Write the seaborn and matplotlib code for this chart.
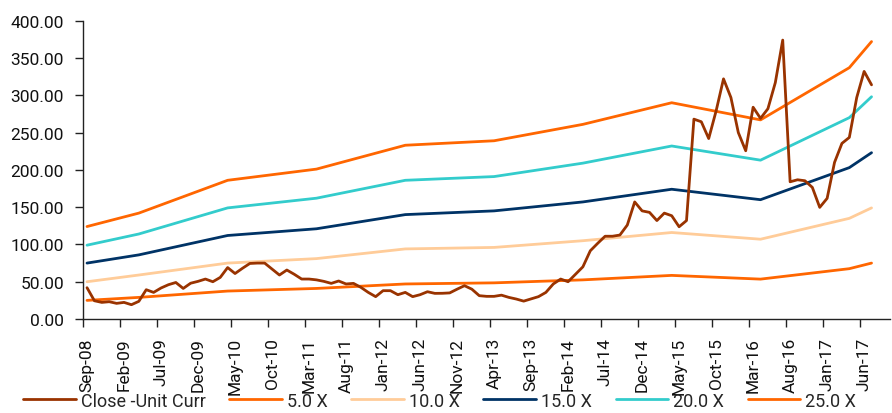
import numpy as np
import matplotlib
matplotlib.use("Agg")
import matplotlib.pyplot as plt
from matplotlib.lines import Line2D
import seaborn as sns

# ── Data ───────────────────────────────────────────────────────────────────
# month index 0 = Sep-08, monthly up to Jul-17
CLOSE = [
    42, 24.5, 22.3, 23.2, 21, 22.3, 19.2, 23.7, 39.3, 35.7,
    41.6, 46, 49, 41, 48, 50.5, 53.6, 50, 55.8, 69,
    61, 68, 74.5, 75, 75, 67, 59, 65.7, 60, 53.6,
    53.6, 52.5, 50.5, 47.8, 51, 47, 47.8, 42.5, 35.7, 30,
    38, 38, 32.6, 35.7, 30, 32.6, 36.6, 34.4, 34.5, 35,
    40, 44.7, 40, 31.3, 30.4, 30.4, 32, 29, 26.8, 24,
    27, 30, 35.7, 47, 53.6, 50, 60, 70, 91.5, 101.5,
    111, 111, 112.6, 126, 157, 145, 143, 132, 142, 138.5,
    123.7, 132, 268, 264.5, 242, 279, 322, 297, 250, 225.6,
    284, 269, 282, 317, 374, 184, 186.7, 185.4, 176.5, 149.7,
    161.8, 210, 235.5, 243.5, 297, 332, 314,
]

# P/E band knots (month index, April each year + start/end)
BAND_MONTHS = [0, 7, 19, 31, 43, 55, 67, 79, 91, 103, 106]
PE_5X  = [25, 29, 37.5, 41, 47, 48.5, 52.5, 58.5, 53.5, 67.5, 75]
PE_10X = [50, 59, 75, 81, 94, 96, 105, 116, 107, 135, 149]
PE_15X = [75, 86, 112, 121, 140, 145, 157, 174, 160, 203, 223]
PE_20X = [99, 114, 149, 162, 186, 191, 209, 232, 213, 270, 298]
PE_25X = [124, 142, 186, 201, 233, 239, 261, 290, 267, 337, 372]

TICK_LABELS = ["Sep-08", "Feb-09", "Jul-09", "Dec-09", "May-10", "Oct-10",
               "Mar-11", "Aug-11", "Jan-12", "Jun-12", "Nov-12", "Apr-13",
               "Sep-13", "Feb-14", "Jul-14", "Dec-14", "May-15", "Oct-15",
               "Mar-16", "Aug-16", "Jan-17", "Jun-17"]

SERIES = [
    ("5.0 X",  PE_5X,  "#FF6600"),
    ("10.0 X", PE_10X, "#FFCC99"),
    ("15.0 X", PE_15X, "#003366"),
    ("20.0 X", PE_20X, "#33CCCC"),
    ("25.0 X", PE_25X, "#FF6600"),
]
CLOSE_COLOR = "#993300"

# ── Style ──────────────────────────────────────────────────────────────────
sns.set_style("white")
plt.rcParams["font.family"] = ["Roboto", "DejaVu Sans"]
FS = 12.5

fig = plt.figure(figsize=(8.92, 4.14), dpi=100)
ax = fig.add_axes([0.0934, 0.227, 0.9044, 0.7206])

LW = 2.0
for name, vals, col in SERIES:
    sns.lineplot(x=BAND_MONTHS, y=vals, color=col, lw=LW, ax=ax, zorder=2)
sns.lineplot(x=np.arange(len(CLOSE)), y=CLOSE, color=CLOSE_COLOR, lw=LW,
             ax=ax, zorder=3)

ax.set_xlim(-0.5, 108.5)
ax.set_ylim(0, 400)
ax.set_yticks(np.arange(0, 401, 50))
ax.set_yticklabels([f"{v:.2f}" for v in np.arange(0, 401, 50)], fontsize=FS,
                   color="#111111")

pos = np.arange(len(TICK_LABELS)) * 5
ax.set_xticks(pos)
ax.set_xticklabels(TICK_LABELS, rotation=90, fontsize=FS, color="#111111")
ax.set_xticks(pos - 0.5, minor=True)
ax.tick_params(axis="x", which="major", length=0, pad=13)
ax.tick_params(axis="x", which="minor", length=6, width=1, color="#222222",
               direction="out", bottom=True)
ax.tick_params(axis="y", length=6, width=1, color="#222222", direction="out",
               left=True, pad=8)

for s in ["top", "right"]:
    ax.spines[s].set_visible(False)
for s in ["left", "bottom"]:
    ax.spines[s].set_color("#222222")
    ax.spines[s].set_linewidth(1)
ax.set_xlabel("")
ax.set_ylabel("")

handles = [Line2D([], [], color=CLOSE_COLOR, lw=LW)]
labels = ["Close -Unit Curr"]
for name, vals, col in SERIES:
    handles.append(Line2D([], [], color=col, lw=LW))
    labels.append(name)
fig.legend(handles, labels, loc="center", bbox_to_anchor=(0.493, 0.03),
           ncol=6, frameon=False, fontsize=13, handlelength=2.9,
           handletextpad=0.3, columnspacing=1.3, borderaxespad=0)

fig.savefig("out.png", dpi=100)
